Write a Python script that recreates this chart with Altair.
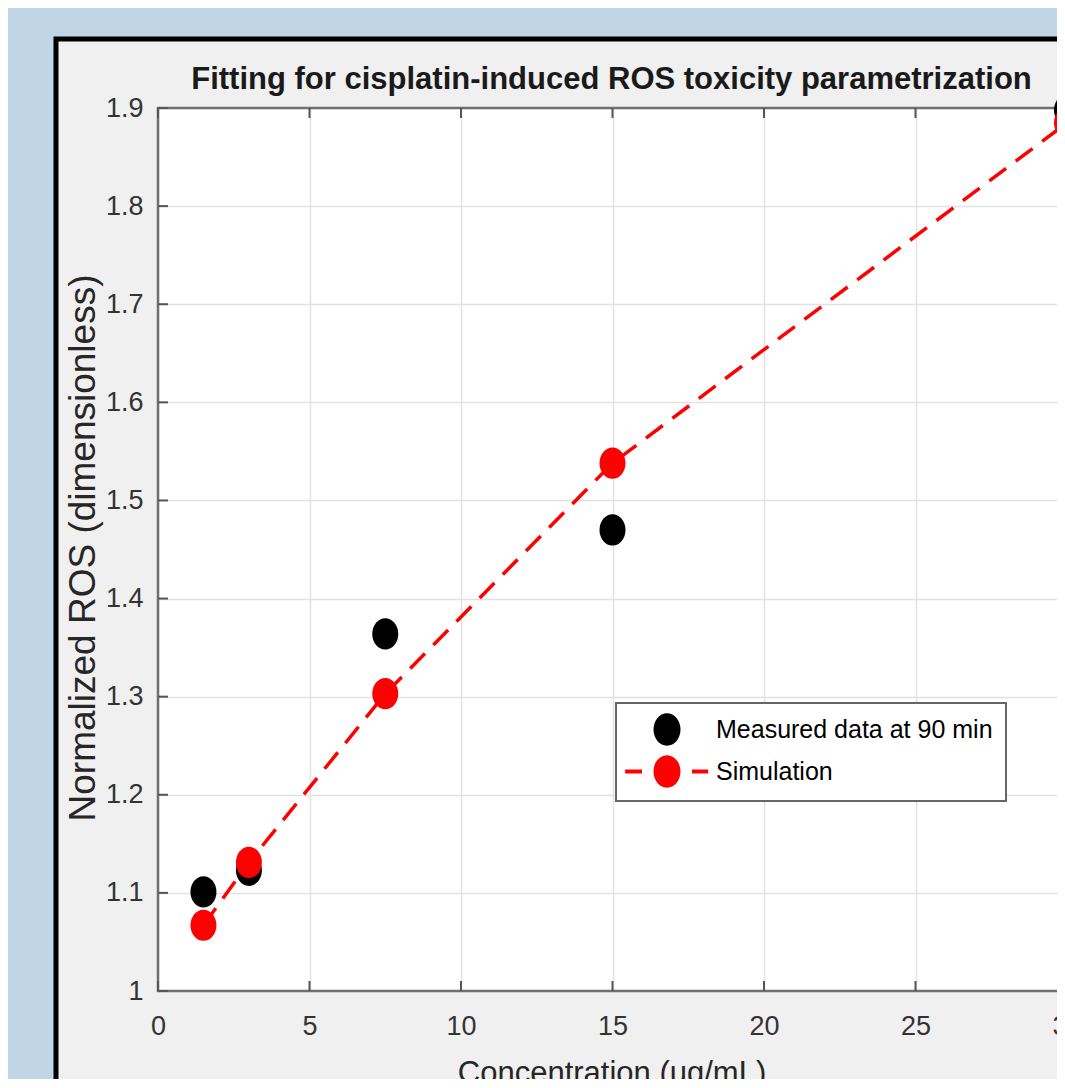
import altair as alt
import pandas as pd

# ---------------- data ----------------
conc = [1.5, 3, 7.5, 15, 30]
measured = [1.101, 1.123, 1.364, 1.470, 1.898]
simulation = [1.067, 1.131, 1.303, 1.538, 1.885]
series = ["Measured data at 90 min", "Simulation"]
x_ticks = [0, 5, 10, 15, 20, 25, 30]
y_ticks = [1.0, 1.1, 1.2, 1.3, 1.4, 1.5, 1.6, 1.7, 1.8, 1.9]
title_text = "Fitting for cisplatin-induced ROS toxicity parametrization"
x_title = "Concentration (ug/mL)"
y_title = "Normalized ROS (dimensionless)"

# ---------------- style ----------------
W, H = 899, 883          # visible plot area (canvas is 1049 px wide)
XR = 909                 # pixel length of the 0..30 x range (runs past the page edge)
BLUE = "#c0d5e6"
FONT = "Liberation Sans, Arial, sans-serif"
ELL = "M-1,0A1,1.2,0,1,0,1,0A1,1.2,0,1,0,-1,0Z"
SIM_LEG = ("M-3.1,-0.15H-1.85V0.15H-3.1Z"
           "M1.85,-0.15H3.05V0.15H1.85Z"
           "M-1,0A1,1.2,0,1,0,1,0A1,1.2,0,1,0,-1,0Z")

meas_df = pd.DataFrame({"x": conc, "y": measured, "series": series[0]})
sim_df = pd.DataFrame({"x": conc, "y": simulation, "series": series[1]})
both = pd.concat([meas_df, sim_df], ignore_index=True)
xt_df = pd.DataFrame({"t": x_ticks})
yt_df = pd.DataFrame({"t": y_ticks})
one = pd.DataFrame({"a": [0]})

xscale = alt.Scale(domain=[0, 30], range=[0, XR], nice=False, zero=False)
yscale = alt.Scale(domain=[1.0, 1.9], nice=False, zero=False)

xaxis = alt.Axis(values=x_ticks, grid=True, gridColor="#e2e2e2", gridWidth=1.5,
                 domain=False, ticks=False, tickSize=0, labelPadding=22,
                 labelFont=FONT, labelFontSize=27, labelColor="#333333",
                 labelFlush=False, labelOverlap=False,
                 title=x_title, titleFont=FONT, titleFontSize=31,
                 titleFontWeight="normal", titleColor="#262626",
                 titleX=W / 2 + 4, titleY=67, titleBaseline="top")
yaxis = alt.Axis(values=y_ticks, grid=True, gridColor="#e2e2e2", gridWidth=1.5,
                 domain=False, ticks=False, tickSize=0, labelPadding=15,
                 labelFont=FONT, labelFontSize=27, labelColor="#333333",
                 labelFlush=False, labelOverlap=False, format=".1~f",
                 title=y_title, titleFont=FONT, titleFontSize=37,
                 titleFontWeight="normal", titleColor="#262626",
                 titleX=-75, titleY=H / 2 - 2, titleAngle=270,
                 titleBaseline="middle", titleAlign="center")


def X(field):
    return alt.X(field, type="quantitative", scale=xscale, axis=xaxis)


def Y(field):
    return alt.Y(field, type="quantitative", scale=yscale, axis=yaxis)


# ---------------- background decoration (outside plot area) ----------------
blue_left = alt.Chart(one).mark_rect(fill=BLUE).encode(
    x=alt.value(-150), x2=alt.value(-104), y=alt.value(-100), y2=alt.value(1200))
blue_top = alt.Chart(one).mark_rect(fill=BLUE).encode(
    x=alt.value(-150), x2=alt.value(1100), y=alt.value(-100), y2=alt.value(-71))
frame = alt.Chart(one).mark_rect(fillOpacity=0, stroke="#000000", strokeWidth=5).encode(
    x=alt.value(-102), x2=alt.value(1100), y=alt.value(-69), y2=alt.value(1200))
border = alt.Chart(one).mark_rect(fillOpacity=0, stroke="#707070", strokeWidth=2.5).encode(
    x=alt.value(0), x2=alt.value(XR), y=alt.value(0), y2=alt.value(H))

tick_style = dict(color="#555555", strokeWidth=2)
xt_bottom = alt.Chart(xt_df).mark_rule(**tick_style).encode(
    x=X("t"), y=alt.value(H), y2=alt.value(H - 10))
xt_top = alt.Chart(xt_df).mark_rule(**tick_style).encode(
    x=X("t"), y=alt.value(0), y2=alt.value(10))
yt_left = alt.Chart(yt_df).mark_rule(**tick_style).encode(
    y=Y("t"), x=alt.value(0), x2=alt.value(10))

# ---------------- data marks ----------------
meas_pts = alt.Chart(meas_df).mark_point(filled=True, color="#000000", opacity=1,
                                         size=676, shape=ELL).encode(
    x=X("x"), y=Y("y"))
sim_line = alt.Chart(sim_df).mark_line(color="#ff0000", strokeWidth=3.5,
                                       strokeDash=[21, 12]).encode(
    x=X("x"), y=Y("y"))
sim_pts = alt.Chart(sim_df).mark_point(filled=True, color="#ff0000", opacity=1,
                                       size=676, shape=ELL).encode(
    x=X("x"), y=Y("y"))

legend = alt.Legend(title=None, orient="none", legendX=458, legendY=595,
                    padding=13, fillColor="#ffffff", strokeColor="#666666",
                    symbolSize=729, symbolStrokeWidth=0, symbolOpacity=1,
                    symbolOffset=24.5,
                    labelFont=FONT, labelFontSize=25, labelColor="#000000",
                    labelOffset=35.5, labelLimit=500, rowPadding=9)
legend_layer = alt.Chart(both).transform_filter("false").mark_point(filled=True).encode(
    x=X("x"), y=Y("y"),
    color=alt.Color("series:N", scale=alt.Scale(domain=series, range=["#000000", "#ff0000"]),
                    legend=legend),
    shape=alt.Shape("series:N", scale=alt.Scale(domain=series, range=[ELL, SIM_LEG]),
                    legend=legend),
)

chart = alt.layer(
    blue_left, blue_top, frame, border, xt_bottom, xt_top, yt_left,
    meas_pts, sim_line, sim_pts, legend_layer,
).properties(
    width=W, height=H,
    title=alt.TitleParams(title_text, font=FONT, fontSize=31, fontWeight="bold",
                          color="#1a1a1a", anchor="middle", offset=0,
                          baseline="alphabetic", dy=112, dx=4),
    padding={"left": 150, "top": 100, "right": 0, "bottom": 88},
    autosize=alt.AutoSizeParams(type="none"),
).configure(
    background="#f0f0f0",
).configure_view(
    fill="#ffffff", strokeWidth=0,
).configure_legend(
    strokeWidth=2,
)

chart.save("out.html", embed_options={"renderer": "svg", "actions": False})
